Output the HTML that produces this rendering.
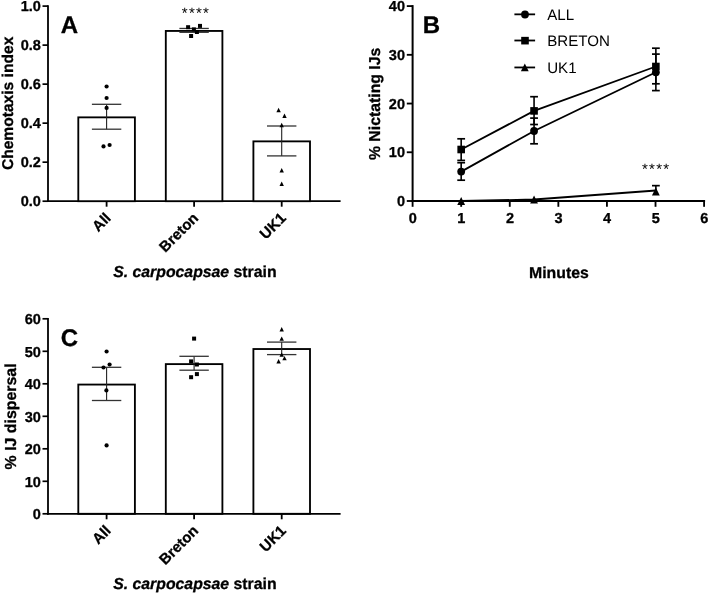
<!DOCTYPE html>
<html lang="en"><head><meta charset="utf-8"><title>Figure</title>
<style>html,body{margin:0;padding:0;background:#fff}svg{display:block}text{font-family:'Liberation Sans', sans-serif;fill:#000;text-rendering:geometricPrecision}.b{stroke:#000;stroke-width:0.3px;stroke-linejoin:round}</style></head><body>
<svg width="709" height="594" viewBox="0 0 709 594">
<rect width="709" height="594" fill="#fff"/>
<line x1="48.00" y1="5.20" x2="48.00" y2="202.10" stroke="#000" stroke-width="1.8" />
<line x1="47.10" y1="201.20" x2="340.60" y2="201.20" stroke="#000" stroke-width="1.8" />
<line x1="42.50" y1="201.20" x2="48.00" y2="201.20" stroke="#000" stroke-width="1.7" />
<text x="40.80" y="206.40" font-size="14.5" font-weight="bold" text-anchor="end"  class="b">0.0</text>
<line x1="42.50" y1="162.18" x2="48.00" y2="162.18" stroke="#000" stroke-width="1.7" />
<text x="40.80" y="167.38" font-size="14.5" font-weight="bold" text-anchor="end"  class="b">0.2</text>
<line x1="42.50" y1="123.16" x2="48.00" y2="123.16" stroke="#000" stroke-width="1.7" />
<text x="40.80" y="128.36" font-size="14.5" font-weight="bold" text-anchor="end"  class="b">0.4</text>
<line x1="42.50" y1="84.14" x2="48.00" y2="84.14" stroke="#000" stroke-width="1.7" />
<text x="40.80" y="89.34" font-size="14.5" font-weight="bold" text-anchor="end"  class="b">0.6</text>
<line x1="42.50" y1="45.12" x2="48.00" y2="45.12" stroke="#000" stroke-width="1.7" />
<text x="40.80" y="50.32" font-size="14.5" font-weight="bold" text-anchor="end"  class="b">0.8</text>
<line x1="42.50" y1="6.10" x2="48.00" y2="6.10" stroke="#000" stroke-width="1.7" />
<text x="40.80" y="11.30" font-size="14.5" font-weight="bold" text-anchor="end"  class="b">1.0</text>
<rect x="78.30" y="117.36" width="56.6" height="83.84" fill="#fff" stroke="#000" stroke-width="1.85"/>
<line x1="106.60" y1="201.20" x2="106.60" y2="206.70" stroke="#000" stroke-width="1.8" />
<line x1="106.60" y1="129.20" x2="106.60" y2="104.30" stroke="#222" stroke-width="1.1" />
<line x1="91.90" y1="129.20" x2="121.30" y2="129.20" stroke="#333" stroke-width="1.3" />
<line x1="91.90" y1="104.30" x2="121.30" y2="104.30" stroke="#333" stroke-width="1.3" />
<text x="111.80" y="219.00" font-size="14.9" font-weight="bold" text-anchor="end" transform="rotate(-45 111.80 219.00)"  class="b">All</text>
<rect x="165.80" y="30.95" width="56.6" height="170.25" fill="#fff" stroke="#000" stroke-width="1.85"/>
<line x1="194.10" y1="201.20" x2="194.10" y2="206.70" stroke="#000" stroke-width="1.8" />
<line x1="194.10" y1="32.30" x2="194.10" y2="28.45" stroke="#222" stroke-width="1.1" />
<line x1="179.40" y1="32.30" x2="208.80" y2="32.30" stroke="#333" stroke-width="1.3" />
<line x1="179.40" y1="28.45" x2="208.80" y2="28.45" stroke="#333" stroke-width="1.3" />
<text x="199.30" y="219.00" font-size="14.9" font-weight="bold" text-anchor="end" transform="rotate(-45 199.30 219.00)"  class="b">Breton</text>
<rect x="253.40" y="141.37" width="56.6" height="59.83" fill="#fff" stroke="#000" stroke-width="1.85"/>
<line x1="281.70" y1="201.20" x2="281.70" y2="206.70" stroke="#000" stroke-width="1.8" />
<line x1="281.70" y1="155.90" x2="281.70" y2="126.00" stroke="#222" stroke-width="1.1" />
<line x1="267.00" y1="155.90" x2="296.40" y2="155.90" stroke="#333" stroke-width="1.3" />
<line x1="267.00" y1="126.00" x2="296.40" y2="126.00" stroke="#333" stroke-width="1.3" />
<text x="286.90" y="219.00" font-size="14.9" font-weight="bold" text-anchor="end" transform="rotate(-45 286.90 219.00)"  class="b">UK1</text>
<circle cx="106.60" cy="86.50" r="2.1"/>
<circle cx="106.60" cy="98.00" r="2.1"/>
<circle cx="106.60" cy="107.90" r="2.1"/>
<circle cx="103.50" cy="146.40" r="2.1"/>
<circle cx="109.60" cy="145.00" r="2.1"/>
<rect x="186.10" y="25.20" width="4.0" height="4.0"/>
<rect x="198.00" y="23.90" width="4.0" height="4.0"/>
<rect x="191.90" y="27.40" width="4.0" height="4.0"/>
<rect x="194.90" y="30.00" width="4.0" height="4.0"/>
<rect x="189.10" y="34.00" width="4.0" height="4.0"/>
<polygon points="278.60,107.80 280.80,112.20 276.40,112.20"/>
<polygon points="284.50,113.50 286.70,117.90 282.30,117.90"/>
<polygon points="281.70,122.80 283.90,127.20 279.50,127.20"/>
<polygon points="281.70,168.10 283.90,172.50 279.50,172.50"/>
<polygon points="281.70,181.60 283.90,186.00 279.50,186.00"/>
<text x="13.20" y="103.40" font-size="15.6" font-weight="bold" text-anchor="middle" transform="rotate(-90 13.20 103.40)"  class="b">Chemotaxis index</text>
<text x="69.50" y="33.40" font-size="24" font-weight="bold" text-anchor="middle"  class="b">A</text>
<text x="194.9" y="276.9" font-size="15.8" font-weight="bold" text-anchor="middle" class="b"><tspan font-style="italic">S. carpocapsae</tspan> strain</text>
<text x="196.00" y="17.60" font-size="15" font-weight="normal" text-anchor="middle" letter-spacing="1.25">****</text>
<line x1="48.00" y1="317.90" x2="48.00" y2="514.70" stroke="#000" stroke-width="1.8" />
<line x1="47.10" y1="513.80" x2="340.60" y2="513.80" stroke="#000" stroke-width="1.8" />
<line x1="42.50" y1="513.80" x2="48.00" y2="513.80" stroke="#000" stroke-width="1.7" />
<text x="40.80" y="519.00" font-size="14.5" font-weight="bold" text-anchor="end"  class="b">0</text>
<line x1="42.50" y1="481.30" x2="48.00" y2="481.30" stroke="#000" stroke-width="1.7" />
<text x="40.80" y="486.50" font-size="14.5" font-weight="bold" text-anchor="end"  class="b">10</text>
<line x1="42.50" y1="448.80" x2="48.00" y2="448.80" stroke="#000" stroke-width="1.7" />
<text x="40.80" y="454.00" font-size="14.5" font-weight="bold" text-anchor="end"  class="b">20</text>
<line x1="42.50" y1="416.30" x2="48.00" y2="416.30" stroke="#000" stroke-width="1.7" />
<text x="40.80" y="421.50" font-size="14.5" font-weight="bold" text-anchor="end"  class="b">30</text>
<line x1="42.50" y1="383.80" x2="48.00" y2="383.80" stroke="#000" stroke-width="1.7" />
<text x="40.80" y="389.00" font-size="14.5" font-weight="bold" text-anchor="end"  class="b">40</text>
<line x1="42.50" y1="351.30" x2="48.00" y2="351.30" stroke="#000" stroke-width="1.7" />
<text x="40.80" y="356.50" font-size="14.5" font-weight="bold" text-anchor="end"  class="b">50</text>
<line x1="42.50" y1="318.80" x2="48.00" y2="318.80" stroke="#000" stroke-width="1.7" />
<text x="40.80" y="324.00" font-size="14.5" font-weight="bold" text-anchor="end"  class="b">60</text>
<rect x="78.30" y="384.57" width="56.6" height="129.23" fill="#fff" stroke="#000" stroke-width="1.85"/>
<line x1="106.60" y1="513.80" x2="106.60" y2="519.30" stroke="#000" stroke-width="1.8" />
<line x1="106.60" y1="400.50" x2="106.60" y2="367.30" stroke="#222" stroke-width="1.1" />
<line x1="91.90" y1="400.50" x2="121.30" y2="400.50" stroke="#333" stroke-width="1.3" />
<line x1="91.90" y1="367.30" x2="121.30" y2="367.30" stroke="#333" stroke-width="1.3" />
<text x="111.80" y="531.60" font-size="14.9" font-weight="bold" text-anchor="end" transform="rotate(-45 111.80 531.60)"  class="b">All</text>
<rect x="165.80" y="364.11" width="56.6" height="149.69" fill="#fff" stroke="#000" stroke-width="1.85"/>
<line x1="194.10" y1="513.80" x2="194.10" y2="519.30" stroke="#000" stroke-width="1.8" />
<line x1="194.10" y1="370.20" x2="194.10" y2="356.30" stroke="#222" stroke-width="1.1" />
<line x1="179.40" y1="370.20" x2="208.80" y2="370.20" stroke="#333" stroke-width="1.3" />
<line x1="179.40" y1="356.30" x2="208.80" y2="356.30" stroke="#333" stroke-width="1.3" />
<text x="199.30" y="531.60" font-size="14.9" font-weight="bold" text-anchor="end" transform="rotate(-45 199.30 531.60)"  class="b">Breton</text>
<rect x="253.40" y="349.03" width="56.6" height="164.77" fill="#fff" stroke="#000" stroke-width="1.85"/>
<line x1="281.70" y1="513.80" x2="281.70" y2="519.30" stroke="#000" stroke-width="1.8" />
<line x1="281.70" y1="354.60" x2="281.70" y2="342.10" stroke="#222" stroke-width="1.1" />
<line x1="267.00" y1="354.60" x2="296.40" y2="354.60" stroke="#333" stroke-width="1.3" />
<line x1="267.00" y1="342.10" x2="296.40" y2="342.10" stroke="#333" stroke-width="1.3" />
<text x="286.90" y="531.60" font-size="14.9" font-weight="bold" text-anchor="end" transform="rotate(-45 286.90 531.60)"  class="b">UK1</text>
<circle cx="106.60" cy="351.50" r="2.1"/>
<circle cx="109.60" cy="364.50" r="2.1"/>
<circle cx="103.50" cy="367.50" r="2.1"/>
<circle cx="106.40" cy="390.40" r="2.1"/>
<circle cx="106.60" cy="445.40" r="2.1"/>
<rect x="192.10" y="336.60" width="4.0" height="4.0"/>
<rect x="189.10" y="359.40" width="4.0" height="4.0"/>
<rect x="194.90" y="362.50" width="4.0" height="4.0"/>
<rect x="194.90" y="372.10" width="4.0" height="4.0"/>
<rect x="189.10" y="375.20" width="4.0" height="4.0"/>
<polygon points="281.70,327.00 283.90,331.40 279.50,331.40"/>
<polygon points="281.70,336.40 283.90,340.80 279.50,340.80"/>
<polygon points="281.70,352.40 283.90,356.80 279.50,356.80"/>
<polygon points="284.50,355.90 286.70,360.30 282.30,360.30"/>
<polygon points="278.60,359.00 280.80,363.40 276.40,363.40"/>
<text x="15.80" y="416.40" font-size="15.9" font-weight="bold" text-anchor="middle" transform="rotate(-90 15.80 416.40)"  class="b">% IJ dispersal</text>
<text x="69.50" y="346.00" font-size="24" font-weight="bold" text-anchor="middle"  class="b">C</text>
<text x="194.9" y="589.3" font-size="15.8" font-weight="bold" text-anchor="middle" class="b"><tspan font-style="italic">S. carpocapsae</tspan> strain</text>
<line x1="412.60" y1="5.10" x2="412.60" y2="202.00" stroke="#000" stroke-width="2.0" />
<line x1="411.60" y1="201.00" x2="705.10" y2="201.00" stroke="#000" stroke-width="2.0" />
<line x1="406.80" y1="201.00" x2="412.60" y2="201.00" stroke="#000" stroke-width="1.85" />
<text x="405.00" y="206.20" font-size="14.5" font-weight="bold" text-anchor="end"  class="b">0</text>
<line x1="406.80" y1="152.27" x2="412.60" y2="152.27" stroke="#000" stroke-width="1.85" />
<text x="405.00" y="157.47" font-size="14.5" font-weight="bold" text-anchor="end"  class="b">10</text>
<line x1="406.80" y1="103.55" x2="412.60" y2="103.55" stroke="#000" stroke-width="1.85" />
<text x="405.00" y="108.75" font-size="14.5" font-weight="bold" text-anchor="end"  class="b">20</text>
<line x1="406.80" y1="54.82" x2="412.60" y2="54.82" stroke="#000" stroke-width="1.85" />
<text x="405.00" y="60.02" font-size="14.5" font-weight="bold" text-anchor="end"  class="b">30</text>
<line x1="406.80" y1="6.10" x2="412.60" y2="6.10" stroke="#000" stroke-width="1.85" />
<text x="405.00" y="11.30" font-size="14.5" font-weight="bold" text-anchor="end"  class="b">40</text>
<line x1="412.60" y1="201.00" x2="412.60" y2="206.80" stroke="#000" stroke-width="1.85" />
<text x="412.80" y="222.70" font-size="14.5" font-weight="bold" text-anchor="middle"  class="b">0</text>
<line x1="461.18" y1="201.00" x2="461.18" y2="206.80" stroke="#000" stroke-width="1.85" />
<text x="461.38" y="222.70" font-size="14.5" font-weight="bold" text-anchor="middle"  class="b">1</text>
<line x1="509.77" y1="201.00" x2="509.77" y2="206.80" stroke="#000" stroke-width="1.85" />
<text x="509.97" y="222.70" font-size="14.5" font-weight="bold" text-anchor="middle"  class="b">2</text>
<line x1="558.35" y1="201.00" x2="558.35" y2="206.80" stroke="#000" stroke-width="1.85" />
<text x="558.55" y="222.70" font-size="14.5" font-weight="bold" text-anchor="middle"  class="b">3</text>
<line x1="606.93" y1="201.00" x2="606.93" y2="206.80" stroke="#000" stroke-width="1.85" />
<text x="607.13" y="222.70" font-size="14.5" font-weight="bold" text-anchor="middle"  class="b">4</text>
<line x1="655.52" y1="201.00" x2="655.52" y2="206.80" stroke="#000" stroke-width="1.85" />
<text x="655.72" y="222.70" font-size="14.5" font-weight="bold" text-anchor="middle"  class="b">5</text>
<line x1="704.10" y1="201.00" x2="704.10" y2="206.80" stroke="#000" stroke-width="1.85" />
<text x="704.30" y="222.70" font-size="14.5" font-weight="bold" text-anchor="middle"  class="b">6</text>
<polyline fill="none" stroke="#000" stroke-width="1.8" points="461.18,171.60 534.06,131.00 655.87,72.30"/>
<polyline fill="none" stroke="#000" stroke-width="1.8" points="461.18,149.50 534.06,110.90 655.87,66.50"/>
<polyline fill="none" stroke="#000" stroke-width="1.8" points="461.18,201.00 534.06,199.50 655.87,190.50"/>
<line x1="461.18" y1="180.20" x2="461.18" y2="162.70" stroke="#000" stroke-width="1.6" />
<line x1="457.28" y1="180.20" x2="465.08" y2="180.20" stroke="#000" stroke-width="1.7" />
<line x1="457.28" y1="162.70" x2="465.08" y2="162.70" stroke="#000" stroke-width="1.7" />
<line x1="534.06" y1="143.80" x2="534.06" y2="118.10" stroke="#000" stroke-width="1.6" />
<line x1="530.16" y1="143.80" x2="537.96" y2="143.80" stroke="#000" stroke-width="1.7" />
<line x1="530.16" y1="118.10" x2="537.96" y2="118.10" stroke="#000" stroke-width="1.7" />
<line x1="655.87" y1="90.60" x2="655.87" y2="54.10" stroke="#000" stroke-width="1.6" />
<line x1="651.97" y1="90.60" x2="659.77" y2="90.60" stroke="#000" stroke-width="1.7" />
<line x1="651.97" y1="54.10" x2="659.77" y2="54.10" stroke="#000" stroke-width="1.7" />
<line x1="461.18" y1="160.40" x2="461.18" y2="138.80" stroke="#000" stroke-width="1.6" />
<line x1="457.28" y1="160.40" x2="465.08" y2="160.40" stroke="#000" stroke-width="1.7" />
<line x1="457.28" y1="138.80" x2="465.08" y2="138.80" stroke="#000" stroke-width="1.7" />
<line x1="534.06" y1="124.50" x2="534.06" y2="96.70" stroke="#000" stroke-width="1.6" />
<line x1="530.16" y1="124.50" x2="537.96" y2="124.50" stroke="#000" stroke-width="1.7" />
<line x1="530.16" y1="96.70" x2="537.96" y2="96.70" stroke="#000" stroke-width="1.7" />
<line x1="655.87" y1="83.80" x2="655.87" y2="48.20" stroke="#000" stroke-width="1.6" />
<line x1="651.97" y1="83.80" x2="659.77" y2="83.80" stroke="#000" stroke-width="1.7" />
<line x1="651.97" y1="48.20" x2="659.77" y2="48.20" stroke="#000" stroke-width="1.7" />
<line x1="655.87" y1="191.50" x2="655.87" y2="185.65" stroke="#000" stroke-width="1.6" />
<line x1="651.97" y1="185.65" x2="659.77" y2="185.65" stroke="#000" stroke-width="1.7" />
<circle cx="461.18" cy="171.60" r="3.9"/>
<circle cx="534.06" cy="131.00" r="3.9"/>
<circle cx="655.87" cy="72.30" r="3.9"/>
<rect x="457.38" y="145.70" width="7.6" height="7.6"/>
<rect x="530.26" y="107.10" width="7.6" height="7.6"/>
<rect x="652.07" y="62.70" width="7.6" height="7.6"/>
<polygon points="461.18,197.00 465.08,205.00 457.28,205.00"/>
<polygon points="534.06,195.40 537.96,203.40 530.16,203.40"/>
<polygon points="655.87,187.60 659.77,195.60 651.97,195.60"/>
<line x1="514.40" y1="14.35" x2="535.10" y2="14.35" stroke="#000" stroke-width="1.8" />
<circle cx="525.00" cy="14.50" r="3.9"/>
<text x="547.20" y="19.95" font-size="15.1" font-weight="normal" text-anchor="start" >ALL</text>
<line x1="514.40" y1="40.50" x2="535.10" y2="40.50" stroke="#000" stroke-width="1.8" />
<rect x="521.20" y="36.85" width="7.6" height="7.6"/>
<text x="547.20" y="46.10" font-size="15.1" font-weight="normal" text-anchor="start" >BRETON</text>
<line x1="514.40" y1="67.45" x2="535.10" y2="67.45" stroke="#000" stroke-width="1.8" />
<polygon points="524.80,63.50 528.70,71.30 520.90,71.30"/>
<text x="547.20" y="73.05" font-size="15.1" font-weight="normal" text-anchor="start" >UK1</text>
<text x="656.20" y="174.10" font-size="15" font-weight="normal" text-anchor="middle" letter-spacing="1.25">****</text>
<text x="431.50" y="33.40" font-size="24" font-weight="bold" text-anchor="middle"  class="b">B</text>
<text x="380.00" y="103.90" font-size="15.8" font-weight="bold" text-anchor="middle" transform="rotate(-90 380.00 103.90)"  class="b">% Nictating IJs</text>
<text x="558.90" y="278.30" font-size="15.8" font-weight="bold" text-anchor="middle"  class="b">Minutes</text>
</svg></body></html>
